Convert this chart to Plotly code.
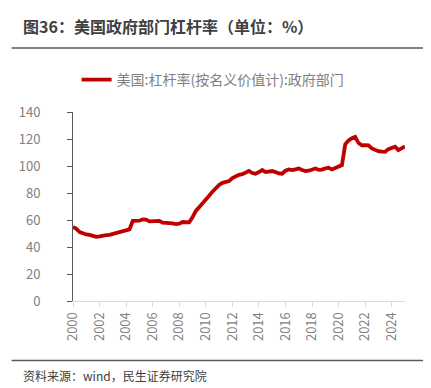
import plotly.graph_objects as go

# Quarterly data, 2000Q1 .. 2025Q1
years_start = 2000
values = [
    55.0, 53.5, 51.0, 50.0,      # 2000
    49.3, 49.0, 48.5, 47.5,      # 2001
    47.8, 48.5, 48.8, 49.0,      # 2002
    49.6, 50.2, 50.8, 51.5,      # 2003
    52.3, 53.0, 59.3, 59.3,      # 2004
    59.5, 60.5, 60.3, 59.0,      # 2005
    59.0, 59.5, 59.3, 58.0,      # 2006
    58.0, 58.2, 57.5, 57.0,      # 2007
    57.3, 58.5, 58.7, 58.3,      # 2008
    62.0, 66.7, 69.5, 72.0,      # 2009
    75.0, 78.0, 81.0, 83.5,      # 2010
    86.0, 87.5, 88.4, 88.8,      # 2011
    91.0, 92.6, 93.5, 94.0,      # 2012
    95.0, 96.3, 94.8, 94.3,      # 2013
    95.5, 97.0, 95.5, 95.8,      # 2014
    96.3, 95.5, 94.5, 94.3,      # 2015
    96.5, 97.5, 97.0, 97.5,      # 2016
    98.2, 97.0, 96.3, 96.5,      # 2017
    97.3, 98.2, 97.2, 97.3,      # 2018
    98.2, 98.7, 97.5, 98.8,      # 2019
    99.8, 100.7, 116.0, 119.0,   # 2020
    120.5, 121.5, 117.0, 115.3,  # 2021
    115.5, 115.3, 113.0, 111.8,  # 2022
    111.0, 110.6, 110.5, 112.5,  # 2023
    113.5, 114.3, 111.8, 113.0,  # 2024
    114.5,                       # 2025
]
x_vals = [years_start + 0.25 * i for i in range(len(values))]
tick_years = list(range(2000, 2025, 2))
tick_labels = [str(y) for y in tick_years]
y_ticks = [0, 20, 40, 60, 80, 100, 120, 140]

title_text = "图36：美国政府部门杠杆率（单位：%）"
series_name = "美国:杠杆率(按名义价值计):政府部门"
source_text = "资料来源：wind，民生证券研究院"

FONT = "Noto Sans CJK SC"

fig = go.Figure()
fig.add_trace(go.Scatter(
    x=x_vals, y=values, mode="lines", name=series_name,
    line=dict(color="#C00000", width=3.8), showlegend=True,
))

W, H = 431, 388
L, R, T, B = 64.5, 34, 104, 94.7

fig.update_layout(
    width=W, height=H,
    margin=dict(l=L, r=R, t=T, b=B, pad=0),
    paper_bgcolor="white", plot_bgcolor="white",
    font=dict(family=FONT, color="#808080", size=13),
    showlegend=True,
    legend=dict(
        orientation="h", x=0.422, xanchor="center", y=1.169, yanchor="middle",
        font=dict(size=14, color="#808080", family=FONT),
        bgcolor="rgba(0,0,0,0)", itemwidth=30,
    ),
    xaxis=dict(
        range=[2000, 2025], tickmode="array", tickvals=tick_years, ticktext=tick_labels,
        tickangle=-90, showgrid=False, zeroline=False,
        showline=True, linecolor="#d9d9d9", linewidth=1,
        ticks="outside", ticklen=5, tickcolor="#d9d9d9",
        tickfont=dict(size=13, color="#808080"),
    ),
    yaxis=dict(
        range=[0, 140], tickmode="array", tickvals=y_ticks,
        showgrid=False, zeroline=False,
        showline=True, linecolor="#595959", linewidth=1,
        ticks="outside", ticklen=5, tickcolor="#595959",
        ticklabelstandoff=24,
        tickfont=dict(size=13, color="#808080"),
    ),
)

pw = W - L - R
ph = H - T - B
def px_x(p):
    return (p - L) / pw
def px_y(p):
    return (H - B - p) / ph

fig.add_annotation(
    xref="paper", yref="paper", x=px_x(12), y=px_y(18),
    xanchor="left", yanchor="middle", showarrow=False,
    text="<b>" + title_text + "</b>", font=dict(size=16, color="#404040", family=FONT),
)
fig.add_annotation(
    xref="paper", yref="paper", x=px_x(12), y=px_y(368),
    xanchor="left", yanchor="middle", showarrow=False,
    text=source_text, font=dict(size=12, color="#404040", family=FONT),
)

fig.add_shape(type="line", xref="paper", yref="paper",
              x0=px_x(3), x1=px_x(420), y0=px_y(40), y1=px_y(40),
              line=dict(color="#595959", width=1.5))
fig.add_shape(type="line", xref="paper", yref="paper",
              x0=px_x(3), x1=px_x(420), y0=px_y(353), y1=px_y(353),
              line=dict(color="#595959", width=1.5))

fig.write_html("out.html")
